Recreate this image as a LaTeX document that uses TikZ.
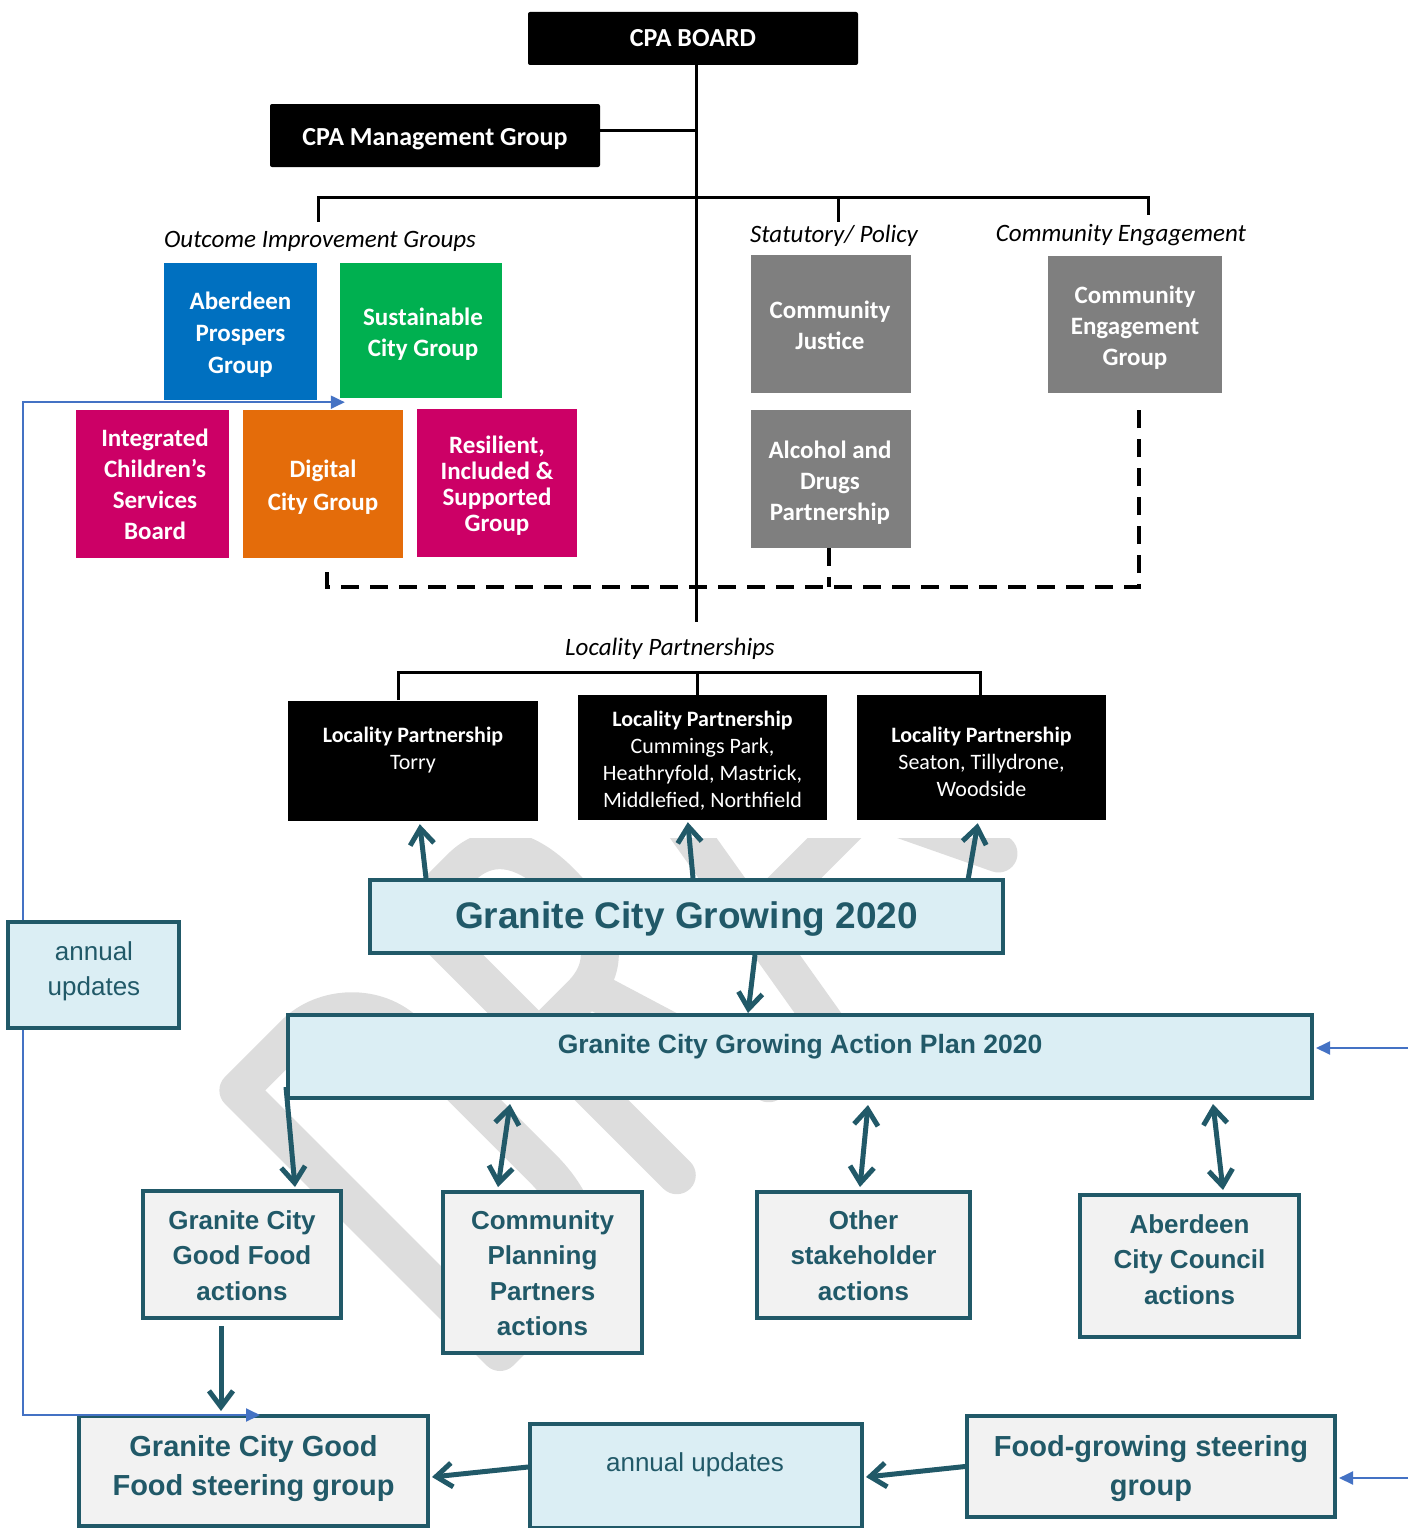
\documentclass[tikz,border=0pt]{standalone}
\usepackage{fontspec}
\setmainfont{Carlito}
\newfontfamily\arialf{Liberation Sans}
\usetikzlibrary{arrows.meta}
\definecolor{tealc}{HTML}{215968}
\definecolor{lblue}{HTML}{DBEEF4}
\definecolor{boxgray}{HTML}{F2F2F2}
\definecolor{apblue}{HTML}{0070C0}
\definecolor{scgreen}{HTML}{00B050}
\definecolor{magc}{HTML}{CC0066}
\definecolor{dorange}{HTML}{E46C0A}
\definecolor{mgray}{HTML}{7F7F7F}
\definecolor{wmgray}{HTML}{DDDDDD}
\definecolor{ublue}{HTML}{4472C4}
\begin{document}
\begin{tikzpicture}[x=1pt,y=-1pt,
  >={Straight Barb[length=16pt,width=24pt]},
  blk/.style={fill=black,text=white,inner sep=0pt,align=center},
  cfill/.style={inner sep=0pt},
  ctext/.style={inner sep=0pt,align=center,text=white,font=\fontsize{25}{31}\selectfont\bfseries},
  ital/.style={inner sep=0pt,font=\fontsize{25}{30}\selectfont\itshape},
  lpt/.style={inner sep=0pt,align=center,text=white,font=\fontsize{22}{27}\selectfont},
  tbox/.style={draw=tealc,line width=4pt,inner sep=0pt},
  ttext/.style={inner sep=0pt,align=center,text=tealc,font=\arialf\bfseries\fontsize{26}{35.5}\selectfont},
  stext/.style={inner sep=0pt,align=center,text=tealc,font=\arialf\bfseries\fontsize{29}{39}\selectfont},
  atext/.style={inner sep=0pt,align=center,text=tealc,font=\arialf\fontsize{26}{35}\selectfont},
  tarr/.style={draw=tealc,line width=5pt,->},
  tarrr/.style={draw=tealc,line width=5pt,<->},
  conn/.style={draw=black,line width=3pt},
  dline/.style={draw=black,line width=4pt,dash pattern=on 18pt off 11pt},
  barr/.style={draw=ublue,line width=2pt,-{Triangle[length=14pt,width=13pt]}},
  wm/.style={draw=wmgray,line width=38pt,line cap=round,line join=round}
]
\useasboundingbox (0,0) rectangle (1408,1528);

% ---------- watermark ----------
\begin{scope}
\clip (0,838) rectangle (1408,1528);
\begin{scope}[shift={(500,1352)},x={(0.7071pt,0.7071pt)},y={(-0.7071pt,0.7071pt)}]
\draw[wm] (0,0) -- (0,370) -- (80,370) .. controls (120,370) and (160,335) .. (160,290) -- (160,100) .. controls (160,40) and (130,0) .. (80,0) -- cycle;
\draw[wm] (250,0) -- (250,370) -- (315,370) .. controls (355,370) and (375,340) .. (375,290) .. controls (375,230) and (355,195) .. (310,195) -- (250,195);
\draw[wm] (320,195) -- (380,0);
\draw[wm] (462,0) -- (525,375) -- (705,0);
\draw[wm] (490,127) -- (640,127);
\end{scope}
\end{scope}

% ---------- top ----------
\node[blk,rounded corners=2pt,minimum width=330pt,minimum height=53pt,font=\bfseries\fontsize{26}{30}\selectfont] (cpa) at (693,38.5) {CPA BOARD};
\node[blk,rounded corners=2pt,minimum width=330pt,minimum height=63pt] (mgmt) at (435,135.5) {};
\node[inner sep=0pt,text=white,font=\bfseries\fontsize{26}{30}\selectfont] (mgmtt) at (435,139) {CPA Management Group};
\coordinate (trunkend) at (696,622);
\coordinate (mj) at (696,130);
\draw[conn] (cpa.south -| trunkend) -- (trunkend);
\draw[conn] (mgmt.east |- mj) -- (mj);

\coordinate (b1) at (318,222);
\coordinate (b2) at (838,222);
\coordinate (b3) at (1148,215);
\draw[conn] (b1) -- (318,197) -- (1148,197) -- (b3);
\draw[conn] (838,197) -- (b2);

\node[ital] (oig) at (320,241) {Outcome Improvement Groups};
\node[ital] (spl) at (834,236) {Statutory/ Policy};
\node[ital] (cel) at (1121,235) {Community Engagement};

\node[cfill,fill=apblue,minimum width=153pt,minimum height=137pt] (ap1) at (240.5,331.5) {};
\node[ctext,font=\fontsize{25}{32}\selectfont\bfseries] (ap1t) at (240.5,334.5) {Aberdeen\\Prospers\\Group};
\node[cfill,fill=scgreen,minimum width=162pt,minimum height=135pt] (sc) at (421,330.5) {};
\node[ctext] (sct) at (423,334.5) {Sustainable\\City Group};
\node[cfill,fill=magc,minimum width=153pt,minimum height=148pt] (ic) at (152.5,484) {};
\node[ctext] (ict) at (155,484.5) {Integrated\\Children's\\Services\\Board};
\node[cfill,fill=dorange,minimum width=160pt,minimum height=148pt] (dc) at (323,484) {};
\node[ctext,font=\fontsize{25}{33}\selectfont\bfseries] (dct) at (323,487) {Digital\\City Group};
\node[cfill,fill=magc,minimum width=160pt,minimum height=148pt] (rs) at (497,483) {};
\node[ctext,font=\fontsize{25}{26}\selectfont\bfseries] (rst) at (497,485.5) {Resilient,\\Included \&\\Supported\\Group};
\node[cfill,fill=mgray,minimum width=160pt,minimum height=138pt] (cj) at (831,324) {};
\node[ctext] (cjt) at (830,325) {Community\\Justice};
\node[cfill,fill=mgray,minimum width=160pt,minimum height=138pt] (ad) at (831,479) {};
\node[ctext] (adt) at (830,483) {Alcohol and\\Drugs\\Partnership};
\node[cfill,fill=mgray,minimum width=174pt,minimum height=137pt] (ceg) at (1135,324.5) {};
\node[ctext] (cegt) at (1135,328) {Community\\Engagement\\Group};

\coordinate (d1) at (327,572);
\coordinate (d2) at (1139,408);
\coordinate (d3) at (829,548);
\draw[dline] (d1) -- (327,587) -- (1139,587) -- (d2);
\draw[dline] (d3) -- (829,587);

% ---------- localities ----------
\node[ital] (lpl) at (670,649) {Locality Partnerships};
\draw[conn] (398,700) -- (398,672) -- (980,672) -- (980,695);
\draw[conn] (697,672) -- (697,695);
\node[blk,minimum width=250pt,minimum height=120pt] (torry) at (413,761) {};
\node[lpt] (torryt) at (413,750) {\textbf{Locality Partnership}\\Torry};
\node[blk,minimum width=249pt,minimum height=125pt] (lpm) at (702.5,757.5) {};
\node[lpt] (lpmt) at (702.5,761) {\textbf{Locality Partnership}\\Cummings Park,\\Heathryfold, Mastrick,\\Middlefied, Northfield};
\node[blk,minimum width=249pt,minimum height=125pt] (lpr) at (981.5,757.5) {};
\node[lpt] (lprt) at (981.5,761.5) {\textbf{Locality Partnership}\\Seaton, Tillydrone,\\Woodside};

% ---------- lower ----------
\node[tbox,fill=lblue,minimum width=633pt,minimum height=73pt] (gcg) at (686.5,916.5) {};
\node[inner sep=0pt,text=tealc,font=\arialf\bfseries\fontsize{37}{40}\selectfont] (gcgt) at (686.5,919) {Granite City Growing 2020};
\node[tbox,fill=lblue,minimum width=1024pt,minimum height=83pt] (ap) at (800,1056.5) {};
\node[inner sep=0pt,text=tealc,font=\arialf\bfseries\fontsize{26.5}{30}\selectfont] (apt) at (800,1047) {Granite City Growing Action Plan 2020};

\node[tbox,fill=boxgray,minimum width=198pt,minimum height=127pt] (gf) at (242,1254.5) {};
\node[ttext] (gft) at (242,1255.5) {Granite City\\Good Food\\actions};
\node[tbox,fill=boxgray,minimum width=199pt,minimum height=161pt] (cpp) at (542.5,1272.5) {};
\node[ttext] (cppt) at (542.5,1273) {Community\\Planning\\Partners\\actions};
\node[tbox,fill=boxgray,minimum width=213pt,minimum height=126pt] (oth) at (863.5,1255) {};
\node[ttext] (otht) at (863.5,1255.5) {Other\\stakeholder\\actions};
\node[tbox,fill=boxgray,minimum width=219pt,minimum height=142pt] (acc) at (1189.5,1266) {};
\node[ttext] (acct) at (1189.5,1259.5) {Aberdeen\\City Council\\actions};

\node[tbox,fill=boxgray,minimum width=349pt,minimum height=110pt] (steer) at (253.5,1471) {};
\node[stext] (steert) at (253.5,1468.5) {Granite City Good\\Food steering group};
\node[tbox,fill=lblue,minimum width=332pt,minimum height=104pt] (ann) at (696,1476) {};
\node[atext] (annt) at (695,1465) {annual updates};
\node[tbox,fill=boxgray,minimum width=368pt,minimum height=101pt] (fg) at (1151,1466.5) {};
\node[stext] (fgt) at (1151,1468.5) {Food-growing steering\\group};

\node[tbox,fill=lblue,line width=3.5pt,minimum width=171pt,minimum height=106pt] (la) at (93.5,975) {};
\node[atext] (lat) at (94,971.5) {annual\\updates};

% ---------- teal arrows ----------
\draw[tarr] ([xshift=58]gcg.north west) -- ([xshift=132,yshift=-3]torry.south west);
\draw[tarr] ([xshift=325]gcg.north west) -- ([xshift=110,yshift=-2]lpm.south west);
\draw[tarr] ([xshift=600,yshift=-2]gcg.north west) -- ([xshift=121,yshift=-3]lpr.south west);
\draw[tarr] ([xshift=387]gcg.south west) -- ([xshift=462]ap.north west);
\draw[tarr] ([yshift=13]ap.south west) -- ([xshift=154,yshift=2]gf.north west);
\draw[tarrr] ([xshift=224,yshift=-4]ap.south west) -- ([xshift=57,yshift=3]cpp.north west);
\draw[tarrr] ([xshift=582,yshift=-5]ap.south west) -- ([xshift=105,yshift=3]oth.north west);
\draw[tarrr] ([xshift=927,yshift=-4]ap.south west) -- ([xshift=145,yshift=3]acc.north west);
\draw[tarr] ([xshift=80,yshift=-6]gf.south west) -- ([xshift=144,yshift=3]steer.north west);
\draw[tarr] ([yshift=9]ann.west) -- ([yshift=-6,xshift=2]steer.east);
\draw[tarr] (fg.west) -- ([yshift=-1,xshift=2]ann.east);

% ---------- blue arrows ----------
\draw[barr] ([xshift=17]la.north west) |- ([xshift=5,yshift=-4]sc.south west);
\draw[barr] ([xshift=17]la.south west) |- ([xshift=183,yshift=-1]steer.north west);
\coordinate (r1) at (1408,1048);
\coordinate (r2) at (1408,1478);
\draw[barr] (r1) -- ([xshift=2]ap.east |- r1);
\draw[barr] (r2) -- ([xshift=2]fg.east |- r2);
\end{tikzpicture}
\end{document}
